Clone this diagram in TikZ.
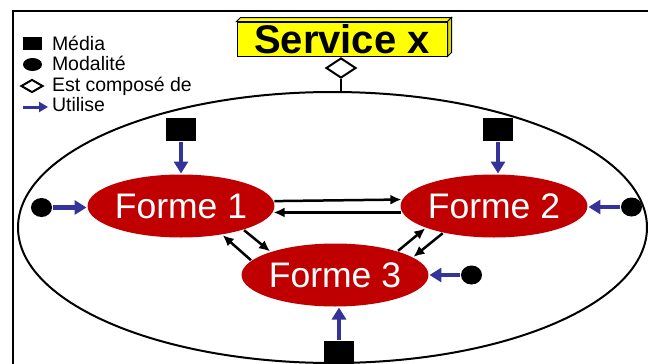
\documentclass[tikz,border=0pt]{standalone}
\usepackage{fontspec}
\setmainfont{Liberation Sans}
\usetikzlibrary{shapes.geometric}
\usetikzlibrary{arrows.meta}
\usetikzlibrary{calc}
\definecolor{formered}{RGB}{192,0,0}
\definecolor{usesblue}{RGB}{51,51,153}
\definecolor{boxyellow}{RGB}{255,255,0}

\begin{document}
\begin{tikzpicture}[x=1pt,y=-1pt,line width=2pt,
forme/.style={ellipse,fill=formered,text=white,inner sep=0pt,minimum width=180pt,minimum height=63pt,font=\fontsize{35.5}{40}\selectfont},
media/.style={rectangle,fill=black,inner sep=0pt,minimum width=30pt,minimum height=23pt},
modalite/.style={ellipse,fill=black,inner sep=0pt,minimum width=21pt,minimum height=19pt},
compose/.style={diamond,draw,fill=white,inner sep=0pt,minimum width=30pt,minimum height=20pt},
utilise/.style={usesblue,line width=4.5pt,-{Triangle[length=12pt,width=14pt]}},
lien/.style={line width=2.5pt,-{Latex[length=11pt,width=10pt]}},
legende/.style={anchor=base west,inner sep=0pt,font=\fontsize{19.5}{20}\selectfont}]

\useasboundingbox (0,0) rectangle (648,364);
\draw (12.5,364) -- (12.5,11) -- (648,11);

\draw (332.5,227.5) node[ellipse,draw,inner sep=0pt,minimum width=629pt,minimum height=271pt] (S) {};

\draw (342,39) node[rectangle,draw,line width=1pt,fill=boxyellow,inner sep=0pt,minimum width=210pt,minimum height=34pt,font=\fontsize{40}{40}\selectfont\bfseries] (SX) {Service x};
\draw[line width=1pt,fill=boxyellow] (SX.north west) -- ++(4,-4) -- ($(SX.north east)+(4,-4)$) -- (SX.north east) -- cycle;
\draw[line width=1pt,fill=boxyellow!85!black] (SX.north east) -- ++(4,-4) -- ($(SX.south east)+(4,-4)$) -- (SX.south east) -- cycle;
\draw (341,68) node[compose] (D) {};
\draw (D.south) -- (D.south |- S.north);

\draw (181,206) node[forme] (F1) {Forme 1};
\draw (494,206) node[forme] (F2) {Forme 2};
\draw (335,275) node[forme] (F3) {Forme 3};

\draw (181,129.5) node[media] (M1) {};
\draw (498,129.5) node[media] (M2) {};
\draw (339,352.5) node[media] (M3) {};
\draw (41.5,207.5) node[modalite] (O1) {};
\draw (631.5,207) node[modalite] (O2) {};
\draw (471.5,275) node[modalite] (O3) {};

\draw[utilise] (M1.south) -- (M1.south |- F1.north);
\draw[utilise] (M2.south) -- (M2.south |- F2.north);
\draw[utilise] (M3.north) -- (M3.north |- F3.south);
\draw[utilise] (O1.east) -- (O1.east -| F1.west);
\draw[utilise] (O2.west) -- (O2.west -| F2.east);
\draw[utilise] (O3.west) -- (O3.west -| F3.east);

\draw[lien] (F1.3.5) -- (F2.176.5);
\draw[lien] (F2.184.5) -- (F1.-4.5);
\draw[lien] (F1.-21) -- (F3.160);
\draw[lien] (F3.170) -- (F1.-35);
\draw[lien] (F3.21) -- (F2.-162);
\draw[lien] (F2.-152) -- (F3.13);

\draw (32.5,43.5) node[rectangle,fill=black,inner sep=0pt,minimum width=19pt,minimum height=13pt] (LM) {};
\draw (51,50) node[legende] (LMt) {Média};
\draw (32.5,64.5) node[ellipse,fill=black,inner sep=0pt,minimum width=19pt,minimum height=13pt] (LO) {};
\draw (51,70.5) node[legende] (LOt) {Modalité};
\draw (32,86) node[compose,minimum width=22pt,minimum height=13pt] (LD) {};
\draw (51,91) node[legende] (LDt) {Est composé de};
\coordinate (LU1) at (23,107);
\coordinate (LU2) at (48,107);
\draw[usesblue,line width=3pt,-{Triangle[length=9pt,width=10pt]}] (LU1) -- (LU2);
\draw (51,111.5) node[legende] (LUt) {Utilise};

\end{tikzpicture}
\end{document}
